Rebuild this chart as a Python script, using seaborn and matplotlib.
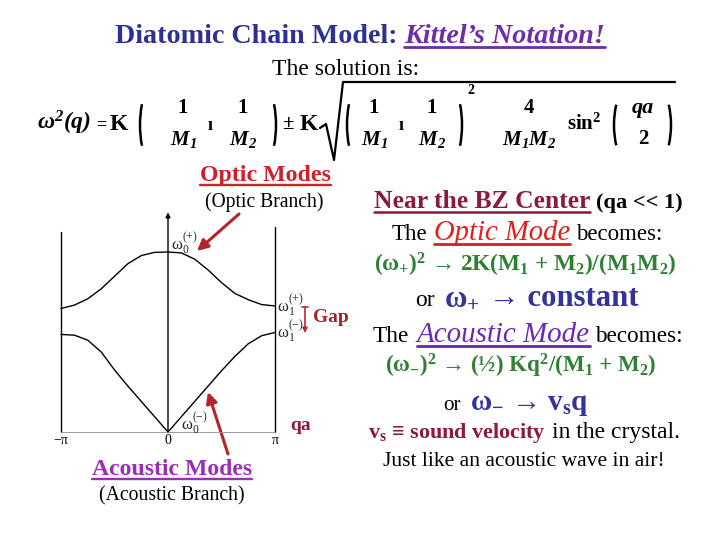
import numpy as np
import pandas as pd
import matplotlib
matplotlib.use("Agg")
import matplotlib.pyplot as plt
import seaborn as sns
from matplotlib.patches import Arc

# ---------------- data ----------------
qa_over_pi = [-1.0, -0.875, -0.75, -0.625, -0.5, -0.375, -0.25, -0.125, 0.0,
              0.125, 0.25, 0.375, 0.5, 0.625, 0.75, 0.875, 1.0]
optic = [0.686, 0.705, 0.74, 0.795, 0.865, 0.935, 0.98, 0.998, 1.0,
         0.995, 0.96, 0.90, 0.83, 0.77, 0.735, 0.708, 0.70]
acoustic = [0.542, 0.538, 0.51, 0.445, 0.345, 0.255, 0.17, 0.085, 0.0,
            0.085, 0.17, 0.255, 0.34, 0.42, 0.49, 0.535, 0.553]
tick_pos = [-1.0, 0.0, 1.0]
tick_labels = ["\u2212\u03c0", "0", "\u03c0"]

df = pd.DataFrame({
    "qa": qa_over_pi + qa_over_pi,
    "omega": optic + acoustic,
    "branch": ["optic"] * len(optic) + ["acoustic"] * len(acoustic),
})

sns.set_theme(style="white")
plt.rcParams["font.family"] = ["Liberation Serif", "DejaVu Serif"]
plt.rcParams["mathtext.default"] = "regular"

fig = plt.figure(figsize=(7.2, 5.4), dpi=100)
fig.patch.set_facecolor("white")

# background axes in pixel coordinates
bg = fig.add_axes([0, 0, 1, 1])
bg.set_xlim(0, 720)
bg.set_ylim(540, 0)
bg.axis("off")

# ---------------- dispersion plot ----------------
L, Rr, B, T = 40, 300, 445, 205
ax = fig.add_axes([L / 720, (540 - B) / 540, (Rr - L) / 720, (B - T) / 540])
ax.set_xlim((L - 168) / 107, (Rr - 168) / 107)
ax.set_ylim((432 - B) / 180, (432 - T) / 180)
ax.axis("off")
ax.patch.set_alpha(0)

sns.lineplot(data=df, x="qa", y="omega", units="branch", estimator=None,
             color="black", linewidth=1.0, ax=ax, legend=False)
ax.plot([-1, -1], [0, 1.11], color="black", lw=1.0)
ax.plot([1, 1], [0, 1.14], color="black", lw=1.0)
ax.plot([-1, 1], [0, 0], color="#9a9a9a", lw=0.7)
ax.annotate("", xy=(0, 1.22), xytext=(0, 0),
            arrowprops=dict(arrowstyle="-|>", lw=1.0, color="black",
                            mutation_scale=7, shrinkA=0, shrinkB=0))
for p, lab in zip(tick_pos, tick_labels):
    ax.text(p, -0.05, lab, ha="center", va="center", fontsize=10, color="black")

ax.text(0.03, 1.05, r"ω$_0^{(+)}$", ha="left", va="center", fontsize=12)
ax.text(0.12, 0.05, r"ω$_0^{(-)}$", ha="left", va="center", fontsize=12)
ax.text(1.02, 0.705, r"ω$_1^{(+)}$", ha="left", va="center", fontsize=12)
ax.text(1.02, 0.56, r"ω$_1^{(-)}$", ha="left", va="center", fontsize=12)

RED_ARROW = "#B5242B"
bg.annotate("", xy=(197, 251), xytext=(239, 214),
            arrowprops=dict(arrowstyle="-|>", lw=2.2, color=RED_ARROW,
                            mutation_scale=16, shrinkA=0, shrinkB=0))
bg.annotate("", xy=(208, 392), xytext=(228, 454),
            arrowprops=dict(arrowstyle="-|>", lw=2.2, color=RED_ARROW,
                            mutation_scale=16, shrinkA=0, shrinkB=0))
# gap bracket
bg.plot([302, 308], [307, 307], color="#C0262D", lw=1.2)
bg.annotate("", xy=(305, 333), xytext=(305, 307),
            arrowprops=dict(arrowstyle="-|>", lw=1.2, color="#C0262D",
                            mutation_scale=7, shrinkA=0, shrinkB=0))
bg.text(313, 318, "Gap", ha="left", va="center", fontsize=14,
        fontweight="bold", color="#A3202E")
bg.text(290, 426, "qa", ha="left", va="center", fontsize=14,
        fontweight="bold", color="#8B1B3D")

# ---------------- text helper ----------------
def place_line(pieces, cx, base, width=None):
    r = fig.canvas.get_renderer()
    items = []
    for s, kw in pieces:
        kw = dict(kw)
        ul = kw.pop("ul", False)
        gap = kw.pop("gap", 0.0)
        t = bg.text(0, base, s, ha="left", va="baseline", **kw)
        items.append([t, ul, gap])
    def widths():
        return [t.get_window_extent(r).width + g * t.get_fontsize() * 100 / 72
                for t, _, g in items]
    ws = widths()
    if width:
        f = width / sum(ws)
        for t, _, _ in items:
            t.set_fontsize(t.get_fontsize() * f)
        ws = widths()
    x = cx - sum(ws) / 2
    for (t, ul, g), w in zip(items, ws):
        gpx = g * t.get_fontsize() * 100 / 72
        x += gpx
        t.set_x(x)
        tw = w - gpx
        if ul:
            fs = t.get_fontsize() * 100 / 72
            bg.plot([x, x + tw], [base + 0.12 * fs + 1, base + 0.12 * fs + 1],
                    color=t.get_color(), lw=max(1.0, fs / 14))
        x += tw

NAVY = "#2E3192"
PURPLE = "#6F2DA8"
BLACK = "black"
GREEN = "#2F7F34"
MAROON = "#8B1B3D"
BLUE = "#333399"

# title
place_line([("Diatomic Chain Model:", dict(fontsize=19, fontweight="bold", color=NAVY)),
            ("Kittel\u2019s Notation!", dict(fontsize=19, fontweight="bold", fontstyle="italic",
                                             color=PURPLE, ul=True, gap=0.25))],
           360, 43, width=491)
place_line([("The solution is:", dict(fontsize=15, color=BLACK))], 346, 75, width=148)

# formula
def ft(x, y, s, size=14, style="normal", weight="bold", ha="center"):
    bg.text(x, y, s, ha=ha, va="center", fontsize=size, fontstyle=style,
            fontweight=weight, color="black")

def paren(cx, y0, y1, left=True):
    h = (y1 - y0) / 1.732
    rx = 14
    if left:
        a = Arc((cx + rx, (y0 + y1) / 2), 2 * rx, 2 * h, theta1=120, theta2=240,
                color="black", lw=1.8)
    else:
        a = Arc((cx - rx, (y0 + y1) / 2), 2 * rx, 2 * h, theta1=-60, theta2=60,
                color="black", lw=1.8)
    bg.add_patch(a)

ft(37, 123, r"ω$^{2}$(q)", size=17, style="italic", ha="left")
ft(101, 125, "=", size=13)
ft(119, 124, "K", size=17, weight="bold")
paren(140, 90, 160, True)
ft(183, 108, "1", 15)
ft(183, 139, r"M$_1$", 15, style="italic")
ft(210, 125, "\u0131", 13)
ft(243, 108, "1", 15)
ft(243, 139, r"M$_2$", 15, style="italic")
paren(276, 90, 160, False)
ft(288, 124, "\u00b1", 15)
ft(309, 124, "K", 17)
bg.plot([320, 326, 334, 343, 675], [128, 124, 160, 82, 82], color="black", lw=1.6)
paren(347, 90, 160, True)
ft(374, 108, "1", 15)
ft(374, 139, r"M$_1$", 15, style="italic")
ft(401, 125, "\u0131", 13)
ft(432, 108, "1", 15)
ft(432, 139, r"M$_2$", 15, style="italic")
paren(462, 90, 160, False)
ft(471, 90, "2", 10)
ft(529, 108, "4", 15)
ft(529, 139, r"M$_1$M$_2$", 15, style="italic")
ft(584, 124, r"sin$^2$", 15)
paren(614, 93, 157, True)
ft(643, 108, "qa", 16, style="italic")
ft(643, 139, "2", 15)
paren(671, 93, 157, False)

# left labels
place_line([("Optic Modes", dict(fontsize=15, fontweight="bold", color="#CC2229", ul=True))],
           265, 181, width=131)
place_line([("(Optic Branch)", dict(fontsize=13, color=BLACK))], 264, 207, width=118)
place_line([("Acoustic Modes", dict(fontsize=15, fontweight="bold", color="#9A2FB5", ul=True))],
           172, 475, width=161)
place_line([("(Acoustic Branch)", dict(fontsize=13, color=BLACK))], 172, 500, width=145)

# right text block
place_line([("Near the BZ Center", dict(fontsize=16, fontweight="bold", color=MAROON, ul=True)),
            ("(qa << 1)", dict(fontsize=14, fontweight="bold", color=BLACK, gap=0.25))],
           528, 208, width=310)
place_line([("The", dict(fontsize=16, color=BLACK)),
            ("Optic Mode", dict(fontsize=20, fontstyle="italic", color="#E0201B", ul=True, gap=0.25)),
            ("becomes:", dict(fontsize=16, color=BLACK, gap=0.25))],
           527, 240, width=271)
place_line([(r"(ω$_{+}$)$^{2}$ → 2K(M$_{1}$ + M$_{2}$)/(M$_{1}$M$_{2}$)",
             dict(fontsize=15, fontweight="bold", color=GREEN))],
           525, 272, width=304)
place_line([("or", dict(fontsize=16, color=BLACK)),
            (r"ω$_{+}$", dict(fontsize=21, fontweight="bold", color=BLUE, gap=0.3)),
            ("\u2192 constant", dict(fontsize=21, fontweight="bold", color=BLUE, gap=0.3))],
           527, 306, width=223)
place_line([("The", dict(fontsize=16, color=BLACK)),
            ("Acoustic Mode", dict(fontsize=20, fontstyle="italic", color="#6A2AB8", ul=True, gap=0.25)),
            ("becomes:", dict(fontsize=16, color=BLACK, gap=0.25))],
           528, 342, width=310)
place_line([(r"(ω$_{-}$)$^{2}$ → (½) Kq$^{2}$/(M$_{1}$ + M$_{2}$)",
             dict(fontsize=15, fontweight="bold", color=GREEN))],
           521, 373, width=272)
place_line([("or", dict(fontsize=16, color=BLACK)),
            (r"ω$_{-}$ → v$_{s}$q", dict(fontsize=22, fontweight="bold", color=BLUE, gap=0.3))],
           516, 410, width=145)
place_line([(r"v$_{s}$ ≡ sound velocity", dict(fontsize=15, fontweight="bold", color=MAROON)),
            ("in the crystal.", dict(fontsize=16, color=BLACK, gap=0.25))],
           524, 438, width=313)
place_line([("Just like an acoustic wave in air!", dict(fontsize=15, color=BLACK))],
           524, 466, width=285)

fig.savefig("out.png", dpi=100, facecolor="white")
